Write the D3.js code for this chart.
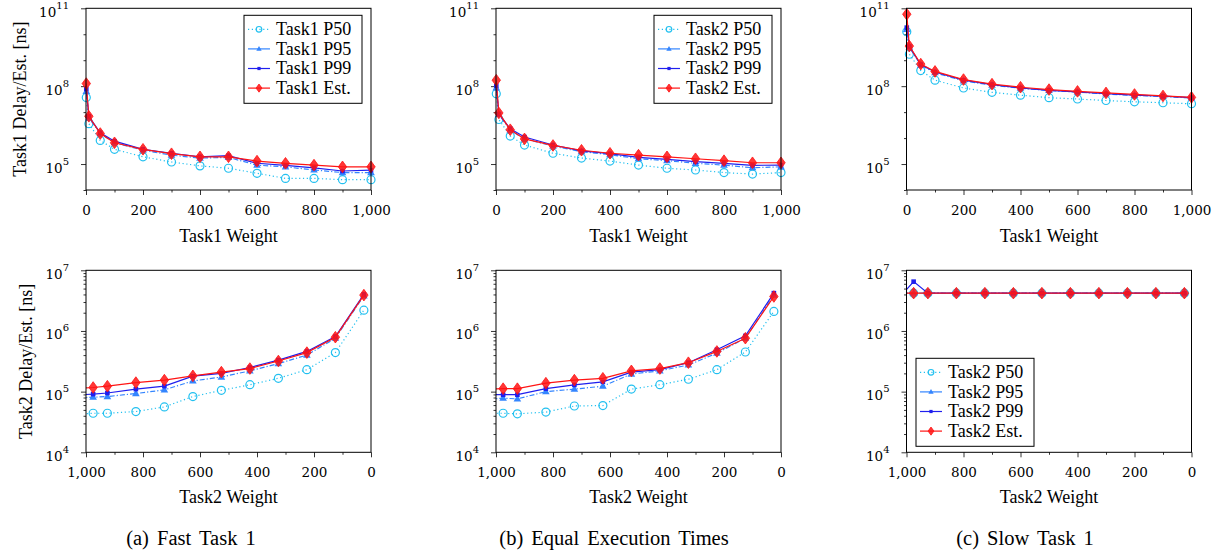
<!DOCTYPE html>
<html>
<head>
<meta charset="utf-8">
<script src="https://cdn.jsdelivr.net/npm/d3@7"></script>
<style>
body { margin: 0; background: #fff; }
svg { display: block; }
</style>
</head>
<body>
<svg id="chart" width="1228" height="552"></svg>
<script>
// x values
const task1Weights = [1, 10, 50, 100, 200, 300, 400, 500, 600, 700, 800, 900, 1000];
const task2Weights = [1024, 1015, 975, 925, 825, 725, 625, 525, 425, 325, 225, 125, 25];

// (a) fast task 1, top row: Task1 delay
const fastT1P50 = [3.7e7, 3.6e6, 8.1e5, 3.7e5, 1.9e5, 1.2e5, 8.5e4, 6.9e4, 4.4e4, 2.8e4, 2.8e4, 2.5e4, 2.5e4];
const fastT1P95 = [6.3e7, 6.0e6, 1.5e6, 6.6e5, 3.4e5, 2.2e5, 1.7e5, 1.8e5, 9.1e4, 7.8e4, 5.9e4, 4.7e4, 4.7e4];
const fastT1P99 = [7.8e7, 6.9e6, 1.6e6, 7.6e5, 3.7e5, 2.6e5, 1.9e5, 2.1e5, 1.07e5, 8.9e4, 7.1e4, 5.4e4, 5.8e4];
const fastT1Est = [1.26e8, 6.9e6, 1.5e6, 6.6e5, 3.7e5, 2.5e5, 1.9e5, 1.9e5, 1.3e5, 1.07e5, 9.1e4, 7.8e4, 7.8e4];
// (a) bottom row: Task2 delay
const fastT2P50 = [4.3e4, 4.3e4, 4.4e4, 4.4e4, 4.7e4, 5.6e4, 8.3e4, 1.05e5, 1.3e5, 1.66e5, 2.3e5, 4.4e5, 2.2e6];
const fastT2P95 = [7.9e4, 7.9e4, 8.1e4, 8.3e4, 9.3e4, 1.07e5, 1.5e5, 1.74e5, 2.2e5, 2.9e5, 4.0e5, 7.6e5, 3.8e6];
const fastT2P99 = [8.9e4, 8.9e4, 9.1e4, 9.5e4, 1.1e5, 1.23e5, 1.8e5, 2.0e5, 2.5e5, 3.3e5, 4.6e5, 8.1e5, 4.0e6];
const fastT2Est = [1.12e5, 1.15e5, 1.17e5, 1.23e5, 1.41e5, 1.55e5, 1.82e5, 2.1e5, 2.4e5, 3.2e5, 4.4e5, 7.9e5, 3.9e6];

// (b) equal execution times
const equalT1P50 = [5.1e7, 5.2e6, 1.2e6, 5.4e5, 2.6e5, 1.7e5, 1.3e5, 9.1e4, 6.9e4, 5.9e4, 4.7e4, 4.1e4, 4.7e4];
const equalT1P95 = [8.5e7, 8.1e6, 2.0e6, 9.3e5, 4.9e5, 3.0e5, 2.3e5, 1.6e5, 1.35e5, 1.07e5, 9.1e4, 7.2e4, 7.8e4];
const equalT1P99 = [1.05e8, 8.5e6, 2.3e6, 1.1e6, 5.4e5, 3.2e5, 2.5e5, 1.8e5, 1.5e5, 1.23e5, 1.07e5, 8.9e4, 9.1e4];
const equalT1Est = [1.7e8, 9.3e6, 2.1e6, 9.3e5, 5.2e5, 3.4e5, 2.6e5, 2.2e5, 1.9e5, 1.6e5, 1.35e5, 1.12e5, 1.12e5];
const equalT2P50 = [4.4e4, 4.4e4, 4.4e4, 4.3e4, 4.6e4, 5.8e4, 5.9e4, 1.1e5, 1.3e5, 1.6e5, 2.3e5, 4.5e5, 2.1e6];
const equalT2P95 = [7.6e4, 7.6e4, 7.8e4, 7.6e4, 1.0e5, 1.1e5, 1.23e5, 1.95e5, 2.2e5, 2.75e5, 4.3e5, 7.6e5, 3.9e6];
const equalT2P99 = [8.9e4, 8.9e4, 8.9e4, 8.9e4, 1.12e5, 1.29e5, 1.45e5, 2.1e5, 2.3e5, 3.0e5, 4.9e5, 8.3e5, 4.2e6];
const equalT2Est = [1.07e5, 1.1e5, 1.12e5, 1.12e5, 1.38e5, 1.55e5, 1.66e5, 2.2e5, 2.4e5, 3.0e5, 4.6e5, 7.6e5, 3.7e6];

// (c) slow task 1
const slowT1P50 = [1.26e10, 1.7e9, 4.0e8, 1.7e8, 8.5e7, 5.8e7, 4.5e7, 3.6e7, 3.2e7, 2.8e7, 2.5e7, 2.3e7, 2.1e7];
const slowT1P95 = [1.55e10, 3.2e9, 6.5e8, 3.3e8, 1.6e8, 1.1e8, 8.3e7, 6.8e7, 5.9e7, 5.0e7, 4.4e7, 4.0e7, 3.5e7];
const slowT1P99 = [1.8e10, 3.4e9, 6.8e8, 3.5e8, 1.7e8, 1.15e8, 8.5e7, 6.9e7, 6.0e7, 5.1e7, 4.5e7, 4.1e7, 3.6e7];
const slowT1Est = [5.9e10, 3.5e9, 7.1e8, 3.7e8, 1.8e8, 1.2e8, 9.1e7, 7.4e7, 6.3e7, 5.5e7, 4.8e7, 4.2e7, 3.7e7];
const slowT2P50 = [4.2e6, 4.2e6, 4.2e6, 4.2e6, 4.2e6, 4.2e6, 4.2e6, 4.2e6, 4.2e6, 4.2e6, 4.2e6, 4.2e6, 4.2e6];
const slowT2P95 = [4.2e6, 4.2e6, 4.2e6, 4.2e6, 4.2e6, 4.2e6, 4.2e6, 4.2e6, 4.2e6, 4.2e6, 4.2e6, 4.2e6, 4.2e6];
const slowT2P99 = [4.0e6, 4.0e6, 6.5e6, 4.2e6, 4.2e6, 4.2e6, 4.2e6, 4.2e6, 4.2e6, 4.2e6, 4.2e6, 4.2e6, 4.2e6];
const slowT2Est = [4.2e6, 4.2e6, 4.2e6, 4.2e6, 4.2e6, 4.2e6, 4.2e6, 4.2e6, 4.2e6, 4.2e6, 4.2e6, 4.2e6, 4.2e6];

const seriesSuffixes = ["P50", "P95", "P99", "Est."];
const xTicks = [0, 200, 400, 600, 800, 1000];
const xMinorTicks = [100, 300, 500, 700, 900];
const topYTicks = [1e5, 1e8, 1e11];
const topYMinor = [1e4, 1e6, 1e7, 1e9, 1e10];
const bottomYTicks = [1e4, 1e5, 1e6, 1e7];
const captions = ["(a) Fast Task 1", "(b) Equal Execution Times", "(c) Slow Task 1"];
const captionX = [191, 614, 1025];

const seriesStyle = [
    { color: "#22c0f0", dash: "1.2,2.6", mark: "circle" },
    { color: "#3385ff", dash: "5,2,1.2,2", mark: "triangle" },
    { color: "#1f1fee", dash: null, mark: "square" },
    { color: "#ff1414", dash: null, mark: "diamond" }
];

const serifFont = "'Liberation Serif', 'Times New Roman', Times, serif";
const tickFont = "'DejaVu Serif', 'Liberation Serif', serif";

const colLeft = [86, 496, 906.5];
const plotW = 285;
const rowTop = [8.3, 270.3];
const rowBottom = [190, 452.3];

const svg = d3.select("#chart");

const bottomMinor = [];
[1e4, 1e5, 1e6].forEach(base => {
    for (let k = 2; k <= 9; k++) bottomMinor.push(base * k);
});

const drawMarker = (g, type, cx, cy, color, s) => {
    if (type === "circle") {
        g.append("circle").attr("cx", cx).attr("cy", cy).attr("r", 4 * s)
            .attr("fill", "none").attr("stroke", color).attr("stroke-width", 1.2);
    } else if (type === "triangle") {
        g.append("path")
            .attr("d", `M${cx},${cy - 4.2 * s}L${cx + 3.8 * s},${cy + 2.6 * s}L${cx - 3.8 * s},${cy + 2.6 * s}Z`)
            .attr("fill", color);
    } else if (type === "square") {
        g.append("rect").attr("x", cx - 2.3 * s).attr("y", cy - 2.3 * s)
            .attr("width", 4.6 * s).attr("height", 4.6 * s).attr("fill", color);
    } else {
        g.append("path")
            .attr("d", `M${cx},${cy - 5.8 * s}L${cx + 4.2 * s},${cy}L${cx},${cy + 5.8 * s}L${cx - 4.2 * s},${cy}Z`)
            .attr("fill", color).attr("fill-opacity", 0.85)
            .attr("stroke", color).attr("stroke-width", 0.8);
    }
}

const powerLabels = (sel) => {
    sel.selectAll(".tick text").each(function (d) {
        const t = d3.select(this);
        t.text(null).attr("dy", null).attr("y", 8);
        t.append("tspan").text("10");
        t.append("tspan").attr("dy", -8).style("font-size", "10px").text(Math.round(Math.log10(d)));
    });
}

const addText = (g, str, size) => g.append("text")
    .style("font-family", serifFont).style("font-size", size).attr("fill", "#000").text(str);

const drawLegend = (g, lx, ly, task) => {
    const legend = g.append("g").attr("transform", `translate(${lx},${ly})`);
    legend.append("rect").attr("width", 118).attr("height", 88)
        .attr("fill", "#fff").attr("stroke", "#000").attr("stroke-width", 1);
    seriesSuffixes.forEach((suffix, i) => {
        const rowY = 14 + i * 19.6;
        const style = seriesStyle[i];
        legend.append("line").attr("x1", 4).attr("x2", 26).attr("y1", rowY).attr("y2", rowY)
            .attr("stroke", style.color).attr("stroke-width", 1.2)
            .attr("stroke-dasharray", i === 0 ? style.dash : null);
        drawMarker(legend, style.mark, 15, rowY, style.color, 0.7);
        addText(legend, `${task} ${suffix}`, "18px").attr("x", 32).attr("y", rowY + 6);
    });
}

const drawPanel = (col, row, xs, series, task, legendPos) => {
    const left = colLeft[col];
    const top = rowTop[row];
    const bottom = rowBottom[row];
    const x = d3.scaleLinear()
        .domain(row === 0 ? [0, 1000] : [1000, 0])
        .range([left, left + plotW]);
    const y = d3.scaleLog()
        .domain(row === 0 ? [1e4, 1e11] : [1e4, 1e7])
        .range([bottom, top]);

    const g = svg.append("g");
    const clipId = `clip-${col}-${row}`;
    g.append("clipPath").attr("id", clipId).append("rect")
        .attr("x", left).attr("y", top).attr("width", plotW).attr("height", bottom - top);

    // axes
    g.append("g").attr("transform", `translate(0,${bottom})`)
        .call(d3.axisBottom(x).tickValues(xTicks).tickSize(5).tickPadding(10).tickFormat(d3.format(",")));
    g.append("g").attr("transform", `translate(0,${bottom})`)
        .call(d3.axisBottom(x).tickValues(xMinorTicks).tickSize(2.5).tickFormat(""));
    const yAxis = g.append("g").attr("transform", `translate(${left},0)`)
        .call(d3.axisLeft(y).tickValues(row === 0 ? topYTicks : bottomYTicks).tickSize(5).tickPadding(12));
    g.append("g").attr("transform", `translate(${left},0)`)
        .call(d3.axisLeft(y).tickValues(row === 0 ? topYMinor : bottomMinor).tickSize(2.5).tickFormat(""));
    powerLabels(yAxis);
    g.selectAll(".domain").remove();
    g.selectAll(".tick line").attr("stroke", "#000").attr("stroke-width", 0.8);
    g.selectAll(".tick text").style("font-family", tickFont).style("font-size", "13.5px").attr("fill", "#000");

    // series
    const line = d3.line().x(d => x(d[0])).y(d => y(d[1]));
    series.forEach((values, i) => {
        const style = seriesStyle[i];
        const points = xs.map((xv, k) => [xv, values[k]]);
        g.append("path").datum(points)
            .attr("clip-path", `url(#${clipId})`)
            .attr("d", line)
            .attr("fill", "none")
            .attr("stroke", style.color)
            .attr("stroke-width", 1.2)
            .attr("stroke-dasharray", style.dash);
        const marks = g.append("g");
        points.filter(p => p[0] >= 0 && p[0] <= 1000)
            .forEach(p => drawMarker(marks, style.mark, x(p[0]), y(p[1]), style.color, 1));
    });

    g.append("rect").attr("x", left).attr("y", top).attr("width", plotW).attr("height", bottom - top)
        .attr("fill", "none").attr("stroke", "#000").attr("stroke-width", 1);

    if (legendPos === "topright") drawLegend(g, left + plotW - 9 - 118, top + 7, task);
    if (legendPos === "bottomleft") drawLegend(g, left + 9.5, bottom - 6 - 88, task);

    // axis titles
    addText(g, `${row === 0 ? "Task1" : "Task2"} Weight`, "18px")
        .attr("x", left + plotW / 2).attr("y", row === 0 ? 242 : 503)
        .attr("text-anchor", "middle");
    if (col === 0) {
        addText(g, `${row === 0 ? "Task1" : "Task2"} Delay/Est. [ns]`, "18px")
            .attr("transform", `translate(${row === 0 ? 25.5 : 32},${(top + bottom) / 2}) rotate(-90)`)
            .attr("text-anchor", "middle");
    }
}

drawPanel(0, 0, task1Weights, [fastT1P50, fastT1P95, fastT1P99, fastT1Est], "Task1", "topright");
drawPanel(0, 1, task2Weights, [fastT2P50, fastT2P95, fastT2P99, fastT2Est], "Task2", null);
drawPanel(1, 0, task1Weights, [equalT1P50, equalT1P95, equalT1P99, equalT1Est], "Task2", "topright");
drawPanel(1, 1, task2Weights, [equalT2P50, equalT2P95, equalT2P99, equalT2Est], "Task2", null);
drawPanel(2, 0, task1Weights, [slowT1P50, slowT1P95, slowT1P99, slowT1Est], "Task2", null);
drawPanel(2, 1, task2Weights, [slowT2P50, slowT2P95, slowT2P99, slowT2Est], "Task2", "bottomleft");

captions.forEach((c, i) => {
    addText(svg, c, "20.5px").attr("class", "caption")
        .attr("x", captionX[i]).attr("y", 545)
        .attr("text-anchor", "middle").style("word-spacing", "3px");
});
</script>
</body>
</html>
